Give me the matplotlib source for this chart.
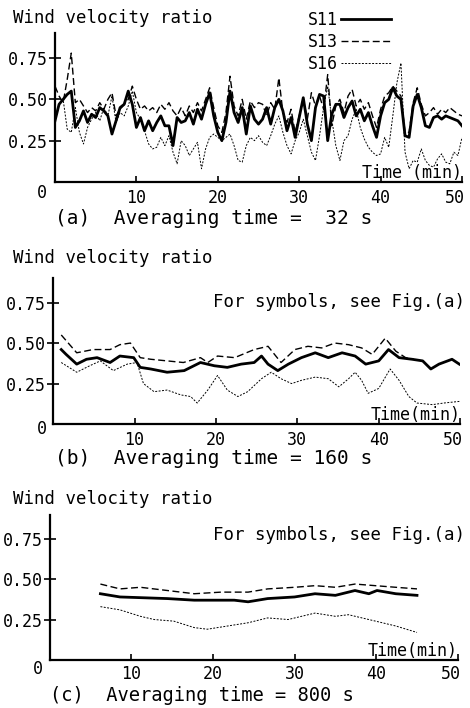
import numpy as np
import matplotlib
matplotlib.use("Agg")
import matplotlib.pyplot as plt
from matplotlib.transforms import ScaledTranslation

plt.rcParams['font.family'] = ['DejaVu Sans Mono']

# (a) averaging time 32 s, sampled every 0.5 min
t_a = np.arange(0, 50.5, 0.5)
s11_a = [0.37, 0.47, 0.50, 0.53, 0.55, 0.33, 0.37, 0.43, 0.36, 0.41,
         0.39, 0.45, 0.43, 0.40, 0.29, 0.37, 0.45, 0.47, 0.55, 0.47,
         0.33, 0.39, 0.31, 0.37, 0.31, 0.36, 0.40, 0.34, 0.34, 0.22,
         0.39, 0.36, 0.37, 0.42, 0.35, 0.44, 0.38, 0.47, 0.54, 0.40,
         0.30, 0.25, 0.36, 0.55, 0.42, 0.36, 0.45, 0.29, 0.46, 0.38,
         0.35, 0.38, 0.45, 0.35, 0.45, 0.50, 0.43, 0.31, 0.39, 0.27,
         0.39, 0.51, 0.35, 0.25, 0.45, 0.53, 0.52, 0.25, 0.41, 0.47,
         0.47, 0.39, 0.45, 0.49, 0.40, 0.44, 0.37, 0.42, 0.34, 0.27,
         0.40, 0.48, 0.50, 0.57, 0.52, 0.50, 0.28, 0.27, 0.46, 0.53,
         0.45, 0.34, 0.33, 0.39, 0.40, 0.38, 0.40, 0.39, 0.38, 0.37,
         0.34]
s13_a = [0.58, 0.52, 0.48, 0.62, 0.78, 0.48, 0.50, 0.46, 0.42, 0.45,
         0.43, 0.48, 0.44, 0.50, 0.54, 0.40, 0.44, 0.47, 0.50, 0.58,
         0.50, 0.44, 0.46, 0.43, 0.45, 0.42, 0.47, 0.44, 0.48, 0.43,
         0.40, 0.45, 0.40, 0.46, 0.42, 0.48, 0.43, 0.50, 0.57, 0.45,
         0.34, 0.30, 0.42, 0.64, 0.46, 0.40, 0.50, 0.38, 0.49, 0.45,
         0.48, 0.47, 0.40, 0.48, 0.44, 0.63, 0.42, 0.36, 0.44, 0.30,
         0.40, 0.50, 0.38, 0.54, 0.46, 0.52, 0.44, 0.65, 0.34, 0.46,
         0.50, 0.42, 0.52, 0.56, 0.46, 0.50, 0.44, 0.48, 0.40, 0.33,
         0.44, 0.52, 0.54, 0.58, 0.55, 0.52, 0.30, 0.30, 0.48, 0.57,
         0.47, 0.40, 0.42, 0.45, 0.41, 0.44, 0.42, 0.45, 0.43, 0.41,
         0.40]
s16_a = [0.40, 0.47, 0.50, 0.32, 0.30, 0.45, 0.30, 0.23, 0.33, 0.38,
         0.42, 0.37, 0.45, 0.40, 0.52, 0.36, 0.42, 0.40, 0.46, 0.55,
         0.42, 0.38, 0.31, 0.23, 0.20, 0.21, 0.27, 0.22, 0.28, 0.18,
         0.11, 0.25, 0.22, 0.16, 0.20, 0.24, 0.08, 0.20, 0.27, 0.29,
         0.27, 0.25, 0.27, 0.29, 0.22, 0.13, 0.12, 0.22, 0.27, 0.25,
         0.28, 0.24, 0.22, 0.28, 0.35, 0.40, 0.30, 0.22, 0.17, 0.25,
         0.30, 0.38, 0.28, 0.18, 0.13, 0.28, 0.45, 0.58, 0.38, 0.22,
         0.13, 0.25, 0.28, 0.38, 0.44, 0.33, 0.26, 0.21, 0.18, 0.16,
         0.17, 0.27, 0.21, 0.40, 0.60, 0.72, 0.18, 0.08, 0.13, 0.12,
         0.20, 0.13, 0.10, 0.09, 0.14, 0.17, 0.12, 0.11, 0.18, 0.16,
         0.27]

# (b) averaging time 160 s
t11_b = [1, 1.6, 2.9, 4.1, 5.4, 7, 8.2, 9.9, 10.7, 12, 14, 16.1, 18.1, 19.8,
         21.4, 23.1, 24.7, 25.6, 26.4, 27.6, 28.9, 30.5, 32.2, 33.8, 35.5,
         37.1, 38.4, 40, 41.2, 42.5, 44.1, 45.4, 46.4, 47.4, 49, 49.9]
s11_b = [0.46, 0.43, 0.37, 0.40, 0.41, 0.38, 0.42, 0.41, 0.35, 0.34, 0.32,
         0.33, 0.38, 0.36, 0.35, 0.37, 0.38, 0.42, 0.37, 0.33, 0.37, 0.41,
         0.44, 0.41, 0.44, 0.42, 0.37, 0.39, 0.46, 0.41, 0.40, 0.39, 0.34,
         0.37, 0.40, 0.37]
t13_b = [1, 2.9, 4.9, 7, 8.2, 9.5, 10.7, 12, 14, 16, 18.1, 19, 20.2, 22.3,
         24.7, 26.4, 28, 29.7, 31.3, 33, 34.6, 36.3, 37.9, 39.2, 40.8, 42.1,
         43.3, 44.3]
s13_b = [0.55, 0.44, 0.46, 0.46, 0.49, 0.50, 0.41, 0.40, 0.39, 0.38, 0.41,
         0.38, 0.42, 0.41, 0.46, 0.48, 0.38, 0.46, 0.48, 0.47, 0.50, 0.49,
         0.47, 0.43, 0.53, 0.45, 0.41, 0.40]
t16_b = [1, 2.9, 4.5, 5.8, 7.4, 9.1, 10.3, 11.1, 12.4, 14, 15.7, 16.9, 17.7,
         19, 20.2, 21.4, 22.7, 23.9, 25.6, 26.8, 28, 29.3, 30.5, 32.2, 33.8,
         35.1, 36.3, 37.1, 37.9, 38.7, 40, 41.4, 42.5, 43.7, 44.7, 46.6, 48,
         49.9]
s16_b = [0.38, 0.32, 0.36, 0.39, 0.33, 0.37, 0.38, 0.25, 0.20, 0.21, 0.18,
         0.17, 0.13, 0.21, 0.30, 0.21, 0.17, 0.20, 0.28, 0.32, 0.28, 0.25,
         0.27, 0.29, 0.28, 0.23, 0.28, 0.32, 0.27, 0.19, 0.22, 0.34, 0.27,
         0.17, 0.13, 0.12, 0.13, 0.14]

# (c) averaging time 800 s
t11_c = [6.2, 8.6, 14.4, 17.7, 22.6, 24.3, 26.7, 30, 32.5, 35, 37.4, 39.1,
         40.1, 42.4, 45]
s11_c = [0.41, 0.39, 0.38, 0.37, 0.37, 0.36, 0.38, 0.39, 0.41, 0.40, 0.43,
         0.41, 0.43, 0.41, 0.40]
t13_c = [6.2, 8.6, 11.1, 14.4, 17.7, 21, 24.3, 26.7, 30, 32.5, 35, 37.4,
         39.9, 42.4, 45]
s13_c = [0.47, 0.44, 0.45, 0.43, 0.41, 0.42, 0.42, 0.44, 0.45, 0.46, 0.45,
         0.47, 0.46, 0.45, 0.44]
t16_c = [6.2, 8.6, 11.1, 12.8, 15.2, 17.7, 19.3, 21.8, 24.3, 26.7, 29.2,
         32.5, 35, 36.6, 39.1, 42.4, 45]
s16_c = [0.33, 0.31, 0.27, 0.25, 0.24, 0.20, 0.19, 0.21, 0.23, 0.26, 0.25,
         0.29, 0.27, 0.28, 0.25, 0.21, 0.17]

xticks = [10, 20, 30, 40, 50]
yticks = [0.25, 0.50, 0.75]
ytick_labels = ['0.25', '0.50', '0.75']

styles = {
    'S11': dict(color='black', lw=2.0, ls='-'),
    'S13': dict(color='black', lw=1.0, ls=(0, (5, 2.5))),
    'S16': dict(color='black', lw=0.7, ls=(0, (2, 1.5))),
}

fig = plt.figure(figsize=(4.7, 7.08), dpi=100)


def setup(ax, time_label='Time(min)', xpad=5):
    ax.set_xlim(0, 50)
    ax.set_ylim(0, 0.9)
    for s in ['top', 'right']:
        ax.spines[s].set_visible(False)
    for s in ['left', 'bottom']:
        ax.spines[s].set_linewidth(1.6)
    ax.set_xticks(xticks)
    ax.set_xticklabels([str(x) for x in xticks])
    ax.set_yticks(yticks)
    ax.set_yticklabels(ytick_labels)
    ax.tick_params(axis='x', direction='in', length=4, width=1.2, pad=xpad,
                   labelsize=12)
    ax.tick_params(axis='y', direction='inout', length=8, width=1.2, pad=1,
                   labelsize=12)
    # last label sits a little left of its tick, as in the original
    last = ax.get_xticklabels()[-1]
    last.set_transform(last.get_transform()
                       + ScaledTranslation(-0.07, 0, fig.dpi_scale_trans))
    ax.text(1.0, 0.06, time_label, transform=ax.transAxes, ha='right',
            va='center', fontsize=12)


# panel (a)
ax1 = fig.add_axes([0.117, 0.743, 0.866, 0.210])
ax1.plot(t_a, s11_a, label='S11', **styles['S11'])
ax1.plot(t_a, s13_a, label='S13', **styles['S13'])
ax1.plot(t_a, s16_a, label='S16', **styles['S16'])
setup(ax1, 'Time (min)')
ax1.legend(loc='upper left', bbox_to_anchor=(0.655, 0.984),
           bbox_transform=fig.transFigure, frameon=False, markerfirst=False,
           fontsize=12, handlelength=3.0, handletextpad=0.2, labelspacing=0.22,
           borderaxespad=0, borderpad=0)

# panel (b)
ax2 = fig.add_axes([0.113, 0.401, 0.866, 0.206])
ax2.plot(t11_b, s11_b, **styles['S11'])
ax2.plot(t13_b, s13_b, **styles['S13'])
ax2.plot(t16_b, s16_b, **styles['S16'])
setup(ax2)

# panel (c)
ax3 = fig.add_axes([0.106, 0.068, 0.868, 0.205])
ax3.plot(t11_c, s11_c, **styles['S11'])
ax3.plot(t13_c, s13_c, **styles['S13'])
ax3.plot(t16_c, s16_c, **styles['S16'])
setup(ax3, xpad=3.5)

# titles, captions, notes
for y in [0.975, 0.636, 0.295]:
    fig.text(0.028, y, 'Wind velocity ratio', fontsize=12.5, va='center')
for x, y in [(0.089, 0.727), (0.089, 0.394), (0.081, 0.055)]:
    fig.text(x, y, '0', fontsize=12, ha='center', va='center')
fig.text(0.117, 0.692, '(a)  Averaging time =  32 s', fontsize=14,
         va='center')
fig.text(0.117, 0.352, '(b)  Averaging time = 160 s', fontsize=14,
         va='center')
fig.text(0.106, 0.018, '(c)  Averaging time = 800 s', fontsize=13.5,
         va='center')
fig.text(0.99, 0.573, 'For symbols, see Fig.(a)', fontsize=12.5, ha='right',
         va='center')
fig.text(0.99, 0.244, 'For symbols, see Fig.(a)', fontsize=12.5, ha='right',
         va='center')

fig.savefig('out.png', dpi=100)
